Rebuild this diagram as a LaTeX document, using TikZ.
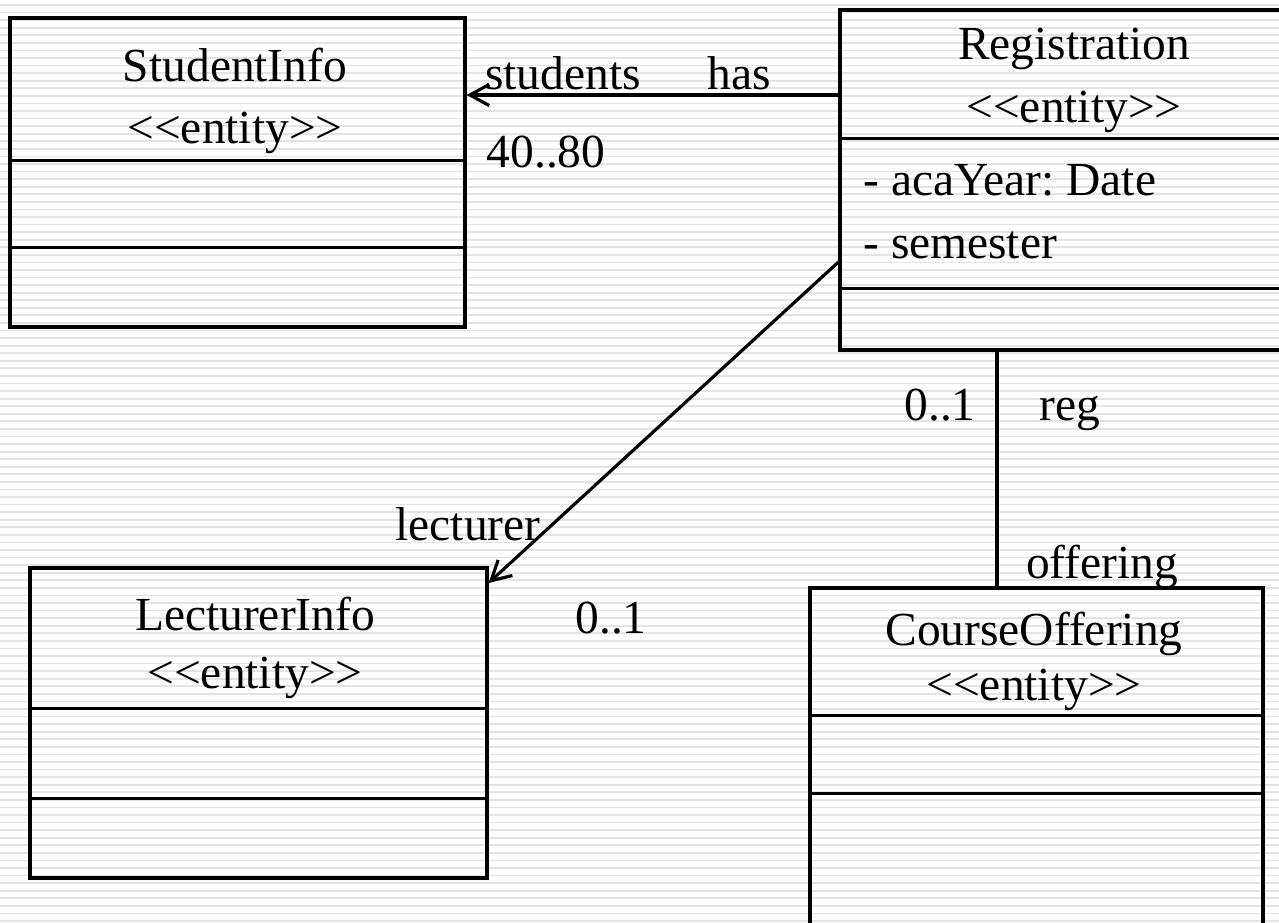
\documentclass[tikz,border=0pt]{standalone}
\usepackage{fontspec}
\setmainfont{Liberation Serif}
\usetikzlibrary{arrows.meta}
\newcommand{\stype}[1]{<\kern0pt<#1>\kern0pt>}
\tikzset{
  classbox/.style={draw, line width=1.8pt, inner sep=0pt},
  txt/.style={anchor=base, inner sep=0pt, font=\fontsize{27}{32}\selectfont\frenchspacing},
  assoc/.style={line width=1.8pt, -{Straight Barb[length=11pt,width=12pt]}},
  divider/.style={line width=1.8pt},
  stripe/.style={gray!22, line width=0.035cm}
}
\begin{document}
\begin{tikzpicture}
\clip (0,0) rectangle (25.58,-18.44);
\fill[white] (0,0) rectangle (25.58,-18.44);
\foreach \k in {0,...,121}
  \draw[stripe] (0,{-0.1-0.1514*\k}) -- (25.58,{-0.1-0.1514*\k});

\node[classbox, minimum width=9.1cm, minimum height=6.18cm] (studentinfo) at (4.75,-3.45) {};
\node[classbox, minimum width=9.2cm, minimum height=6.8cm] (registration) at (21.4,-3.6) {};
\node[classbox, minimum width=9.14cm, minimum height=6.2cm] (lecturerinfo) at (5.17,-14.46) {};
\node[classbox, minimum width=9.06cm, minimum height=7.2cm] (courseoffering) at (20.73,-15.36) {};
\foreach \n/\d in {studentinfo/2.88, studentinfo/4.62, registration/2.6, registration/5.6,
                   lecturerinfo/2.84, lecturerinfo/4.64, courseoffering/2.58, courseoffering/4.14}
  \draw[divider] ([yshift=-\d cm]\n.north west) -- ([yshift=-\d cm]\n.north east);

\node[txt] (studname) at (4.70,-1.62) {StudentInfo};
\node[txt] (studtype) at (4.70,-2.86) {\stype{entity}};
\node[txt] (regname) at (21.48,-1.19) {Registration};
\node[txt] (regtype) at (21.48,-2.44) {\stype{entity}};
\node[txt, anchor=base west] (regyear) at (17.26,-3.90) {- acaYear: Date};
\node[txt, anchor=base west] (regsem) at (17.26,-5.16) {- semester};
\node[txt] (lectname) at (5.10,-12.60) {LecturerInfo};
\node[txt] (lecttype) at (5.10,-13.76) {\stype{entity}};
\node[txt] (coursename) at (20.68,-12.90) {CourseOffering};
\node[txt] (coursetype) at (20.68,-14.00) {\stype{entity}};

\draw[assoc] (registration.west |- 0,-1.9) -- (studentinfo.east |- 0,-1.9);
\draw[assoc] (registration.west |- 0,-5.24) -- (lecturerinfo.east |- 0,-11.66);
\draw[divider] (registration.south -| 19.94,0) -- (courseoffering.north -| 19.94,0);

\node[txt] (students) at (11.26,-1.78) {students};
\node[txt] (has) at (14.78,-1.78) {has};
\node[txt] (studmult) at (10.92,-3.34) {40..80};
\node[txt] (lecturer) at (9.36,-10.80) {lecturer};
\node[txt] (lectmult) at (12.22,-12.66) {0..1};
\node[txt] (regmult) at (18.80,-8.40) {0..1};
\node[txt] (reg) at (21.40,-8.40) {reg};
\node[txt] (offering) at (22.04,-11.56) {offering};
\end{tikzpicture}
\end{document}
